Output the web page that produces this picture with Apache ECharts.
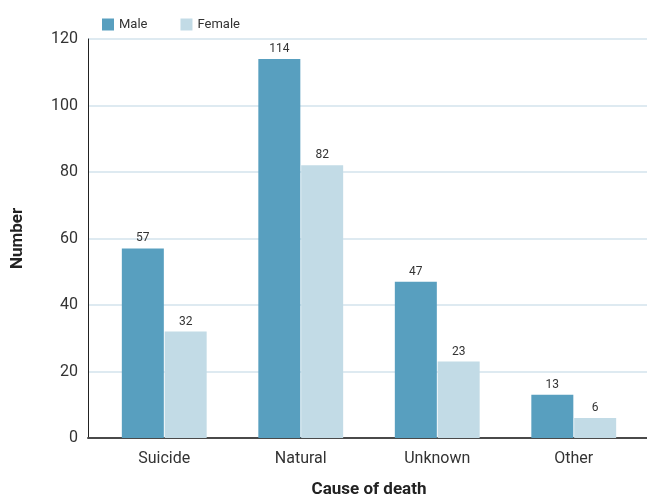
<!DOCTYPE html>
<html>
<head>
<meta charset="utf-8">
<script src="https://cdn.jsdelivr.net/npm/echarts@6/dist/echarts.min.js"></script>
<style>
  html, body { margin: 0; padding: 0; background: #fff; }
  #chart { width: 647px; height: 495px; }
</style>
</head>
<body>
<div id="chart"></div>
<script>
// Deaths by cause, split by sex
const causes = ['Suicide', 'Natural', 'Unknown', 'Other'];
const male = [57, 114, 47, 13];
const female = [32, 82, 23, 6];
const yTicks = { min: 0, max: 120, interval: 20 };

const FONT = 'Roboto, "Noto Sans", sans-serif';
const MALE_COLOR = '#589fbf';
const FEMALE_COLOR = '#c2dbe6';

const chart = echarts.init(document.getElementById('chart'), null, { renderer: 'canvas' });

const labelStyle = {
  show: true,
  position: 'top',
  distance: 4,
  color: '#333',
  fontSize: 12,
  fontFamily: FONT
};

chart.setOption({
  animation: false,
  textStyle: { fontFamily: FONT },
  legend: {
    left: 97,
    top: 13,
    itemWidth: 12,
    itemHeight: 12,
    itemGap: 33,
    icon: 'rect',
    textStyle: { fontSize: 13, color: '#333', fontFamily: FONT },
    data: ['Male', 'Female']
  },
  grid: [
    // bars
    { left: 96, right: 5, top: 39, bottom: 57, containLabel: false, outerBoundsMode: 'none' },
    // frame: y scale, grid lines and axis lines
    { left: 88, right: 0, top: 39, bottom: 57, containLabel: false, outerBoundsMode: 'none' }
  ],
  xAxis: [
    {
      type: 'category',
      gridIndex: 0,
      data: causes,
      axisLine: { show: false },
      axisTick: { show: false },
      axisLabel: { fontSize: 16, color: '#333', margin: 13, fontFamily: FONT },
      name: 'Cause of death',
      nameLocation: 'middle',
      nameGap: 43,
      nameTextStyle: { fontSize: 17, fontWeight: 'bold', color: '#222', fontFamily: FONT }
    },
    {
      type: 'category',
      gridIndex: 1,
      data: causes,
      axisLine: { show: true, lineStyle: { color: '#4a4a4a', width: 2 } },
      axisTick: { show: false },
      axisLabel: { show: false }
    }
  ],
  yAxis: [
    {
      type: 'value',
      gridIndex: 0,
      min: yTicks.min,
      max: yTicks.max,
      interval: yTicks.interval,
      show: false,
      splitLine: { show: false }
    },
    {
      type: 'value',
      gridIndex: 1,
      min: yTicks.min,
      max: yTicks.max,
      interval: yTicks.interval,
      axisLine: { show: true, lineStyle: { color: '#222', width: 1 } },
      axisTick: { show: false },
      axisLabel: { fontSize: 16, color: '#333', margin: 10, fontFamily: FONT },
      splitLine: { show: true, lineStyle: { color: '#d3e3ec', width: 1.5 } },
      name: 'Number',
      nameLocation: 'middle',
      nameGap: 62,
      nameRotate: 90,
      nameTextStyle: { fontSize: 17, fontWeight: 'bold', color: '#222', fontFamily: FONT }
    }
  ],
  series: [
    {
      name: 'Male',
      type: 'bar',
      xAxisIndex: 0,
      yAxisIndex: 0,
      data: male,
      barWidth: 42,
      barGap: '2%',
      itemStyle: { color: MALE_COLOR },
      label: labelStyle
    },
    {
      name: 'Female',
      type: 'bar',
      xAxisIndex: 0,
      yAxisIndex: 0,
      data: female,
      barWidth: 42,
      barGap: '2%',
      itemStyle: { color: FEMALE_COLOR },
      label: labelStyle
    }
  ]
});
</script>
</body>
</html>
